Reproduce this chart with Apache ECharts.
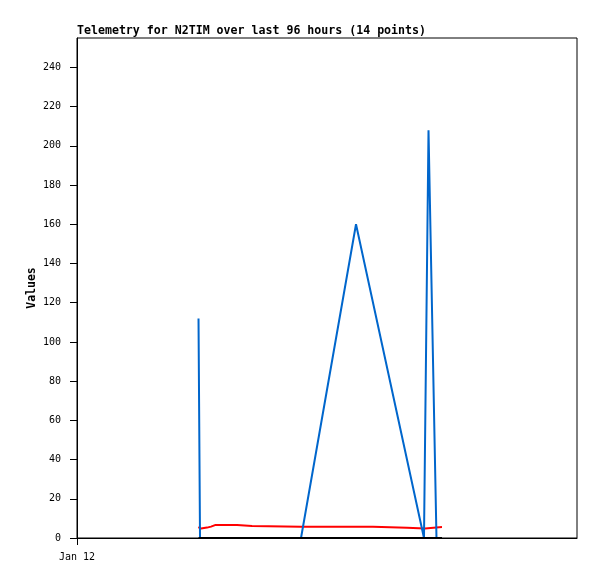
<!DOCTYPE html>
<html>
<head>
<meta charset="utf-8">
<script src="https://cdn.jsdelivr.net/npm/echarts@6/dist/echarts.min.js"></script>
<style>
  html, body { margin: 0; padding: 0; background: #fff; }
</style>
</head>
<body>
<div id="chart" style="width:597px;height:579px;"></div>
<script>
// hours since Jan 12 00:00
const blueHours = [23.33, 23.62, 43.01, 53.57, 66.62, 67.49, 69.02, 70.08];
const blueValues = [112, 0, 0, 160, 0, 208, 0, 0];

const redHours = [23.3, 23.81, 24.96, 25.73, 26.5, 30.72, 33.6, 43.01, 56.83, 57.02, 63.36, 63.55, 66.82, 67.01, 70.08];
const redValues = [5.5, 4.8, 5.3, 5.8, 6.6, 6.6, 6.1, 5.8, 5.8, 5.2, 5.2, 4.9, 4.9, 5.6, 5.6];

const blackHours = [23.33, 70.08];
const blackValues = [0, 0];

const yTicks = [0, 20, 40, 60, 80, 100, 120, 140, 160, 180, 200, 220, 240];
const xTicks = [0];
const xTickLabels = ['Jan 12'];

function pairs(xs, ys) {
  return xs.map((x, i) => [x, ys[i]]);
}

const chart = echarts.init(document.getElementById('chart'));

const option = {
  animation: false,
  backgroundColor: '#fff',
  title: {
    text: 'Telemetry for N2TIM over last 96 hours (14 points)',
    left: 77,
    top: 25,
    padding: 0,
    textStyle: {
      fontFamily: 'DejaVu Sans Mono',
      fontWeight: 'bold',
      fontSize: 11.6,
      color: '#000'
    }
  },
  grid: {
    left: 77,
    right: 20,
    top: 38,
    bottom: 41,
    show: true,
    borderColor: '#000',
    borderWidth: 1,
    backgroundColor: '#fff'
  },
  xAxis: {
    type: 'value',
    min: 0,
    max: 96,
    axisLine: { lineStyle: { color: '#000', width: 1 } },
    axisTick: {
      customValues: xTicks,
      length: 7,
      lineStyle: { color: '#000' }
    },
    axisLabel: {
      customValues: xTicks,
      margin: 14,
      color: '#000',
      fontFamily: 'DejaVu Sans Mono',
      fontSize: 10,
      formatter: (v) => xTickLabels[xTicks.indexOf(v)] || ''
    },
    splitLine: { show: false }
  },
  yAxis: {
    type: 'value',
    min: 0,
    max: 255,
    name: 'Values',
    nameLocation: 'middle',
    nameGap: 39,
    nameMoveOverlap: false,
    nameTextStyle: {
      fontFamily: 'DejaVu Sans Mono',
      fontWeight: 'bold',
      fontSize: 11.5,
      color: '#000'
    },
    axisLine: { show: true, lineStyle: { color: '#000', width: 1 } },
    axisTick: {
      show: true,
      customValues: yTicks,
      length: 7,
      lineStyle: { color: '#000' }
    },
    axisLabel: {
      customValues: yTicks,
      margin: 16,
      color: '#000',
      fontFamily: 'DejaVu Sans Mono',
      fontSize: 10
    },
    splitLine: { show: false }
  },
  series: [
    {
      name: 'red',
      type: 'line',
      symbol: 'none',
      lineStyle: { color: '#ff0000', width: 2 },
      data: pairs(redHours, redValues)
    },
    {
      name: 'blue',
      type: 'line',
      symbol: 'none',
      lineStyle: { color: '#0066cc', width: 2 },
      data: pairs(blueHours, blueValues)
    },
    {
      name: 'black',
      type: 'line',
      symbol: 'none',
      lineStyle: { color: '#000', width: 2 },
      data: pairs(blackHours, blackValues)
    }
  ]
};

chart.setOption(option);
</script>
</body>
</html>
